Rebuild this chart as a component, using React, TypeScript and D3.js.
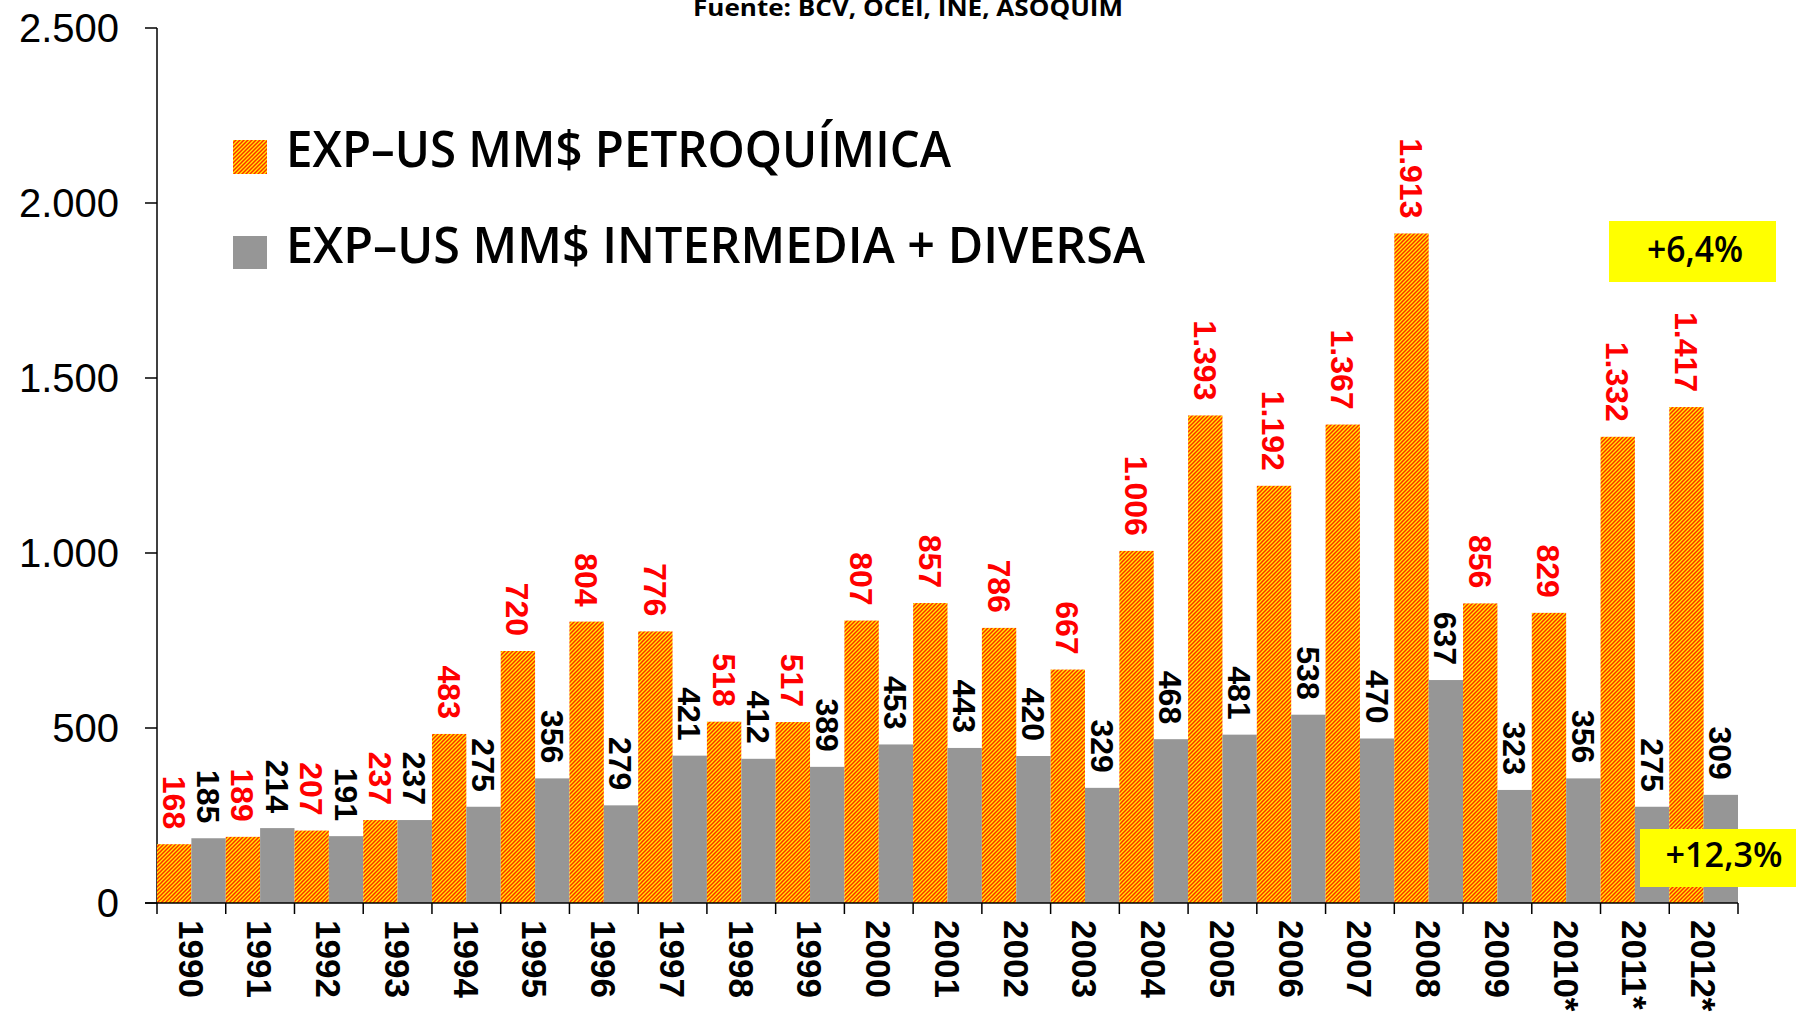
import React from 'react';
import * as d3 from 'd3';

const years = ['1990', '1991', '1992', '1993', '1994', '1995', '1996', '1997', '1998', '1999', '2000', '2001',
  '2002', '2003', '2004', '2005', '2006', '2007', '2008', '2009', '2010*', '2011*', '2012*'];
const petroquimica = [168, 189, 207, 237, 483, 720, 804, 776, 518, 517, 807, 857, 786, 667, 1006, 1393, 1192,
  1367, 1913, 856, 829, 1332, 1417];
const intermedia = [185, 214, 191, 237, 275, 356, 279, 421, 412, 389, 453, 443, 420, 329, 468, 481, 538, 470,
  637, 323, 356, 275, 309];
const yTicks = [0, 500, 1000, 1500, 2000, 2500];
const seriesNames = ['EXP–US MM$ PETROQUÍMICA', 'EXP–US MM$ INTERMEDIA + DIVERSA'];
const source = 'Fuente: BCV, OCEI, INE, ASOQUIM';
const growthLabels = ['+6,4%', '+12,3%'];

const W = 1796;
const H = 1013;
const GRAY = '#969696';
const ARIAL = '"Liberation Sans", Arial, sans-serif';
const SANS = '"Open Sans", "Noto Sans", sans-serif';

const locale = d3.formatLocale({ decimal: ',', thousands: '.', grouping: [3], currency: ['', ''] });
const fmt = locale.format(',d');

export default function App() {
  const x0 = d3.scaleBand<string>().domain(years).range([157, 1738]).padding(0);
  const x1 = d3.scaleBand<string>().domain(['petro', 'inter']).range([0, x0.bandwidth()]).padding(0);
  const y = d3.scaleLinear().domain([0, 2500]).range([903, 28]);

  const rows = years.map((yr, i) => ({ yr, petro: petroquimica[i], inter: intermedia[i] }));

  return (
    <svg width={W} height={H} style={{ position: 'absolute', left: 0, top: 0, background: '#fff' }}>
      <defs>
        <pattern id="petroFill" patternUnits="userSpaceOnUse" width="4" height="4">
          <rect width="4" height="4" fill="#FFEE00" />
          <path d="M-1,1 L1,-1 M0,4 L4,0 M3,5 L5,3" stroke="#FF2A00" strokeWidth="1.5" />
        </pattern>
      </defs>

      {/* source, cut at the top edge as in the original */}
      <text x={693} y={16} fontFamily={SANS} fontWeight={700} fontSize={24} textLength={430}
        lengthAdjust="spacingAndGlyphs">{source}</text>

      {/* y axis */}
      <line x1={157} x2={157} y1={y(2500)} y2={y(0)} stroke="#000" strokeWidth={1.5} />
      {yTicks.map(t => (
        <g key={t}>
          <line x1={145} x2={157} y1={y(t)} y2={y(t)} stroke="#000" strokeWidth={1.5} />
          <text x={119} y={y(t)} dy="0.36em" textAnchor="end" fontFamily={ARIAL} fontSize={40}>{fmt(t)}</text>
        </g>
      ))}

      {/* bars */}
      {rows.map(d => {
        const bx = x0(d.yr) as number;
        return (
          <g key={d.yr}>
            <rect x={bx + (x1('petro') as number)} y={y(d.petro)} width={x1.bandwidth()}
              height={y(0) - y(d.petro)} fill="url(#petroFill)" />
            <rect x={bx + (x1('inter') as number)} y={y(d.inter)} width={x1.bandwidth()}
              height={y(0) - y(d.inter)} fill={GRAY} />
          </g>
        );
      })}

      {/* value labels */}
      {rows.map(d => {
        const bx = x0(d.yr) as number;
        const cp = bx + (x1('petro') as number) + x1.bandwidth() / 2;
        const ci = bx + (x1('inter') as number) + x1.bandwidth() / 2;
        const yp = y(d.petro) - 15;
        const yi = y(d.inter) - 15;
        return (
          <g key={'l' + d.yr} fontFamily={ARIAL} fontWeight={700} fontSize={32}>
            <text transform={`translate(${cp},${yp}) rotate(90)`} textAnchor="end" dy="0.36em"
              fill="#FF0000">{fmt(d.petro)}</text>
            <text transform={`translate(${ci},${yi}) rotate(90)`} textAnchor="end" dy="0.36em"
              fill="#000">{fmt(d.inter)}</text>
          </g>
        );
      })}

      {/* x axis */}
      <line x1={145} x2={1738} y1={y(0)} y2={y(0)} stroke="#000" strokeWidth={1.5} />
      {years.map(yr => (
        <line key={'t' + yr} x1={x0(yr) as number} x2={x0(yr) as number} y1={903} y2={914}
          stroke="#000" strokeWidth={1.5} />
      ))}
      <line x1={1738} x2={1738} y1={903} y2={914} stroke="#000" strokeWidth={1.5} />
      {years.map(yr => (
        <text key={'x' + yr} transform={`translate(${(x0(yr) as number) + x0.bandwidth() / 2},920) rotate(90)`}
          dy="0.36em" fontFamily={ARIAL} fontWeight={700} fontSize={35}>{yr}</text>
      ))}

      {/* legend */}
      <rect x={233} y={140} width={34} height={34} fill="url(#petroFill)" />
      <text x={286} y={167} fontFamily={SANS} fontWeight={600} fontSize={50} textLength={665}
        lengthAdjust="spacingAndGlyphs">{seriesNames[0]}</text>
      <rect x={233} y={236} width={34} height={33} fill={GRAY} />
      <text x={286} y={263} fontFamily={SANS} fontWeight={600} fontSize={50} textLength={859}
        lengthAdjust="spacingAndGlyphs">{seriesNames[1]}</text>

      {/* growth boxes */}
      <rect x={1609} y={221} width={167} height={61} fill="#FFFF00" />
      <text x={1695} y={262} textAnchor="middle" fontFamily={SANS} fontWeight={600} fontSize={36}
        textLength={96} lengthAdjust="spacingAndGlyphs">{growthLabels[0]}</text>
      <rect x={1640} y={829} width={170} height={58} fill="#FFFF00" />
      <text x={1724} y={867} textAnchor="middle" fontFamily={SANS} fontWeight={600} fontSize={34}
        textLength={117} lengthAdjust="spacingAndGlyphs">{growthLabels[1]}</text>
    </svg>
  );
}
